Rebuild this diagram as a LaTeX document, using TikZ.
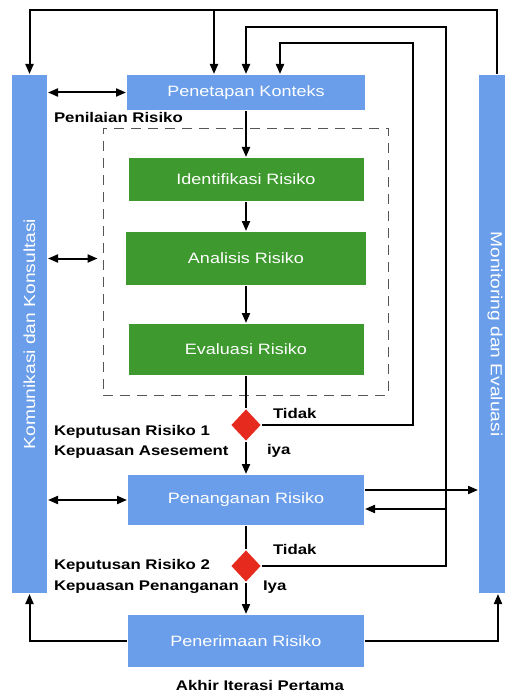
\documentclass[tikz,border=0pt]{standalone}
\usepackage{fontspec}
\setmainfont{Liberation Sans}[FakeStretch=1.2]
\usetikzlibrary{shapes.geometric,arrows.meta}

\definecolor{sky}{HTML}{6A9EEA}
\definecolor{leaf}{HTML}{3E9A2E}
\definecolor{alarm}{HTML}{E62A1E}
\definecolor{dashgray}{HTML}{555555}

\begin{document}
\begin{tikzpicture}[x=1pt,y=-1pt,line width=2pt,>={Triangle[length=10pt,width=8pt]}]
  \useasboundingbox (0,0) rectangle (505,695);
  \tikzset{
    blok/.style={fill=sky,text=white,font=\fontsize{15}{18}\selectfont,minimum width=236pt,minimum height=50pt,inner sep=0pt},
    hijau/.style={blok,fill=leaf},
    batang/.style={fill=sky,text=white,font=\fontsize{16}{19}\selectfont,minimum height=518pt,inner sep=0pt},
    putusan/.style={diamond,fill=alarm,minimum width=30pt,minimum height=32pt,inner sep=0pt},
    catatan/.style={font=\bfseries\fontsize{14}{20}\selectfont,inner sep=0pt}
  }

  % Side bars running the whole height.
  \node[batang,minimum width=35pt] (komunikasi) at (29.5,334) {\rotatebox{90}{Komunikasi dan Konsultasi}};
  \node[batang,minimum width=32pt] (monitoring) at (495,334) {\rotatebox{-90}{Monitoring dan Evaluasi}};

  % Main column of steps.
  \node[blok,minimum width=238pt,minimum height=35pt] (konteks) at (246,92.5) {Penetapan Konteks};
  \node[draw=dashgray,dash pattern=on 10pt off 7pt,line width=0.9pt,minimum width=285pt,minimum height=267pt] (penilaian) at (245.5,261.5) {};
  \node[hijau,minimum width=235pt,minimum height=43pt] (identifikasi) at (246,179.5) {Identifikasi Risiko};
  \node[hijau,minimum width=240pt,minimum height=53pt] (analisis) at (246,258.5) {Analisis Risiko};
  \node[hijau,minimum width=235pt,minimum height=51pt] (evaluasi) at (246,349.5) {Evaluasi Risiko};
  \node[putusan] (cek1) at (246,425) {};
  \node[blok] (penanganan) at (246,500) {Penanganan Risiko};
  \node[putusan] (cek2) at (246,566) {};
  \node[blok,minimum height=52pt] (penerimaan) at (246,641) {Penerimaan Risiko};

  % Labels.
  \node[catatan,anchor=west] (judul) at (53,117) {Penilaian Risiko};
  \node[catatan,anchor=west] (tidak1) at (272,413) {Tidak};
  \node[catatan,anchor=west] (iya1) at (266,451) {iya};
  \node[catatan,anchor=west,align=left] (ket1) at (53,442) {Keputusan Risiko 1\\Kepuasan Asesement};
  \node[catatan,anchor=west] (tidak2) at (272,549) {Tidak};
  \node[catatan,anchor=west] (iya2) at (262,587) {Iya};
  \node[catatan,anchor=west,align=left,font=\bfseries\fontsize{14}{21}\selectfont] (ket2) at (53,576.5) {Keputusan Risiko 2\\Kepuasan Penanganan};
  \node[catatan] (akhir) at (260,685) {Akhir Iterasi Pertama};

  % Helper points for the feedback loops.
  \coordinate (atas1) at (0,10);
  \coordinate (atas2) at (0,27);
  \coordinate (atas3) at (0,43);
  \coordinate (kanan2) at (446,0);
  \coordinate (kanan3) at (413,0);
  \coordinate (tepi) at ([xshift=-5pt]penilaian.west);
  \coordinate (keluar) at ([yshift=10pt]penanganan.east);
  \coordinate (balik) at ([yshift=-9pt]penanganan.east);

  % Main flow.
  \draw[->] (konteks) -- (identifikasi);
  \draw[->] (identifikasi) -- (analisis);
  \draw[->] (analisis) -- (evaluasi);
  \draw (evaluasi) -- (cek1);
  \draw[->] (cek1) -- (penanganan);
  \draw (penanganan) -- (cek2);
  \draw[->] (cek2) -- (penerimaan);

  % Feedback loops back to the context.
  \draw[->] ([xshift=2pt]monitoring.north) |- (komunikasi.north |- atas1) -- (komunikasi.north);
  \draw[->] ([xshift=-32pt]konteks.north |- atas1) -- ([xshift=-32pt]konteks.north);
  \draw[->] (cek2.east) -| (kanan2 |- atas2) -| (konteks.north);
  \draw[->] (cek1.east) -| (kanan3 |- atas3) -| ([xshift=34pt]konteks.north);
  \draw[->] (balik -| kanan2) -- (balik);
  \draw[->] (keluar) -- (keluar -| monitoring.west);

  % Communication both ways.
  \draw[<->] (komunikasi.east |- konteks) -- (konteks.west);
  \draw[<->] (komunikasi.east |- analisis) -- (tepi |- analisis);
  \draw[<->] (komunikasi.east |- penanganan) -- (penanganan.west);

  % End of the first iteration.
  \draw[->] (penerimaan.west) -| (komunikasi.south);
  \draw[->] (penerimaan.east) -| ([xshift=3pt]monitoring.south);
\end{tikzpicture}
\end{document}
